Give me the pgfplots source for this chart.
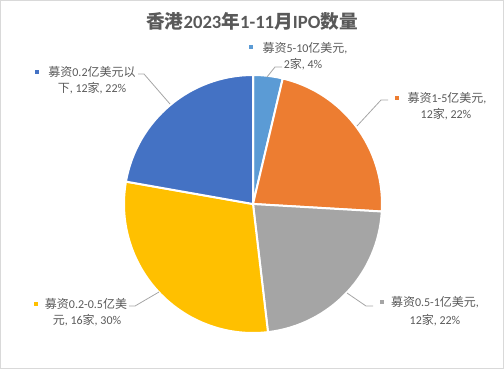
\documentclass[border=0pt]{standalone}
\usepackage{fontspec}
\usepackage{pgfplots}
\pgfplotsset{compat=1.18}
\setmainfont{Carlito}
\newfontfamily\lat{Carlito}
\newfontfamily\cjk{Noto Sans CJK SC}
\definecolor{cA}{HTML}{5B9BD5}
\definecolor{cB}{HTML}{ED7D31}
\definecolor{cC}{HTML}{A5A5A5}
\definecolor{cD}{HTML}{FFC000}
\definecolor{cE}{HTML}{4472C4}
\definecolor{txt}{HTML}{595959}
\definecolor{lead}{HTML}{A6A6A6}
\definecolor{frame}{HTML}{D9D9D9}
% pie: start (cumulative count), value (count), colour; total = 54
\newcommand{\slice}[3]{%
  \filldraw[fill=#3, draw=white, line width=1.5pt]
    (axis cs:253,204) -- ++({90-360*(#1)/54}:96.75pt)
    arc[start angle={90-360*(#1)/54}, delta angle={-360*(#2)/54}, radius=96.75pt] -- cycle;}
\begin{document}
\begin{tikzpicture}
\begin{axis}[x=0.75pt, y=0.75pt, xmin=0, xmax=504, ymin=0, ymax=369,
  y dir=reverse, hide axis, clip=false]
\addplot[draw=none, forget plot] coordinates {(0,0) (504,369)};
\draw[frame, line width=0.75pt] (axis cs:0.5,0.5) rectangle (axis cs:503.5,368.5);
% data: 2, 12, 12, 16, 12
\slice{0}{2}{cA}
\slice{2}{12}{cB}
\slice{14}{12}{cC}
\slice{26}{16}{cD}
\slice{42}{12}{cE}
% title
\node[text=txt, font=\lat\fontsize{14pt}{16pt}\selectfont\bfseries, inner sep=0pt] at (axis cs:252,21)
  {{\cjk\bfseries 香港}2023{\cjk\bfseries 年}1-11{\cjk\bfseries 月}IPO{\cjk\bfseries 数量}};
% leader lines
\draw[lead, line width=0.6pt] (axis cs:282,67) -- (axis cs:275,67) -- (axis cs:267,77);
\draw[lead, line width=0.6pt] (axis cs:388,100) -- (axis cs:381,100) -- (axis cs:357,126);
\draw[lead, line width=0.6pt] (axis cs:347,293) -- (axis cs:366,306) -- (axis cs:373,306);
\draw[lead, line width=0.6pt] (axis cs:159,292) -- (axis cs:135,306) -- (axis cs:129,306);
\draw[lead, line width=0.6pt] (axis cs:170,104) -- (axis cs:144,74) -- (axis cs:138,74);
% labels
\tikzset{lbl/.style={text=txt, font=\lat\fontsize{9pt}{10pt}\selectfont, inner sep=0pt}}
\fill[cA] (axis cs:249,45) rectangle (axis cs:253,49);
\node[lbl] at (axis cs:305,48) {{\cjk 募资}5-10{\cjk 亿美元},};
\node[lbl] at (axis cs:303,64) {2{\cjk 家}, 4\%};
\fill[cB] (axis cs:395,96) rectangle (axis cs:399,100);
\node[lbl] at (axis cs:447,98) {{\cjk 募资}1-5{\cjk 亿美元},};
\node[lbl] at (axis cs:446,114) {12{\cjk 家}, 22\%};
\fill[cC] (axis cs:380,300) rectangle (axis cs:384,304);
\node[lbl] at (axis cs:435,302) {{\cjk 募资}0.5-1{\cjk 亿美元},};
\node[lbl] at (axis cs:435,320) {12{\cjk 家}, 22\%};
\fill[cD] (axis cs:34,302) rectangle (axis cs:38,306);
\node[lbl] at (axis cs:86,304) {{\cjk 募资}0.2-0.5{\cjk 亿美}};
\node[lbl] at (axis cs:87,320) {{\cjk 元}, 16{\cjk 家}, 30\%};
\fill[cE] (axis cs:35,70) rectangle (axis cs:39,74);
\node[lbl] at (axis cs:92,72) {{\cjk 募资}0.2{\cjk 亿美元以}};
\node[lbl] at (axis cs:92,88) {{\cjk 下}, 12{\cjk 家}, 22\%};
\end{axis}
\end{tikzpicture}
\end{document}
